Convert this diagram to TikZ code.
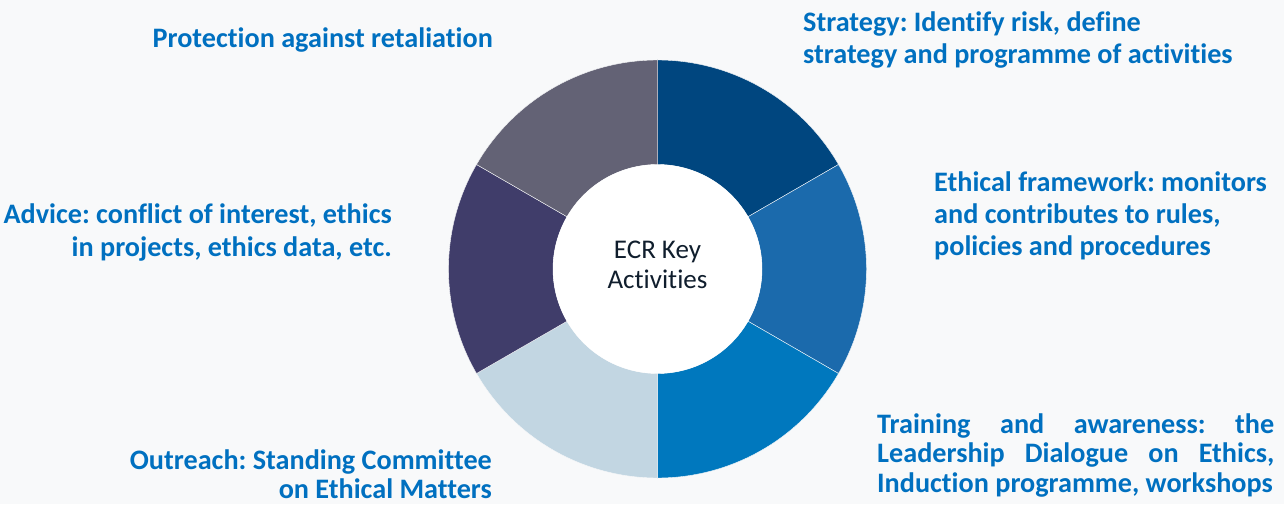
\documentclass[tikz,border=0pt]{standalone}
\usepackage{fontspec}
\setmainfont{Carlito}[Ligatures={NoCommon}]
\usepackage{xcolor}
\usetikzlibrary{calc}
\definecolor{bg}{RGB}{248,249,250}
\definecolor{lblue}{RGB}{0,112,192}
\definecolor{segA}{RGB}{0,70,127}
\definecolor{segB}{RGB}{27,106,172}
\definecolor{segC}{RGB}{0,120,190}
\definecolor{segD}{RGB}{194,214,226}
\definecolor{segE}{RGB}{64,61,106}
\definecolor{segF}{RGB}{99,98,117}
\definecolor{ctext}{RGB}{16,30,45}
\tikzset{lbl/.style={text=lblue, font=\fontsize{28.2}{32}\selectfont\bfseries, inner sep=0pt},
  wedge/.style={draw=bg, line width=0.4pt}}
\hyphenpenalty=10000
\frenchspacing

\begin{document}
\begin{tikzpicture}[x=1pt, y=1pt]
      \fill[bg] (0, 0) rectangle (1284, 504);
      \useasboundingbox (0, 0) rectangle (1284, 504);
      \coordinate (c) at (657.5, 235);
      % donut, clockwise from the top
      \fill[segA, wedge] ($(c)+(90:209pt)$) arc (90:30:209pt) -- ($(c)+(30:104.5pt)$) arc (30:90:104.5pt) -- cycle;
      \fill[segB, wedge] ($(c)+(30:209pt)$) arc (30:-30:209pt) -- ($(c)+(-30:104.5pt)$) arc (-30:30:104.5pt) -- cycle;
      \fill[segC, wedge] ($(c)+(-30:209pt)$) arc (-30:-90:209pt) -- ($(c)+(-90:104.5pt)$) arc (-90:-30:104.5pt) -- cycle;
      \fill[segD, wedge] ($(c)+(-90:209pt)$) arc (-90:-150:209pt) -- ($(c)+(-150:104.5pt)$) arc (-150:-90:104.5pt) -- cycle;
      \fill[segE, wedge] ($(c)+(210:209pt)$) arc (210:150:209pt) -- ($(c)+(150:104.5pt)$) arc (150:210:104.5pt) -- cycle;
      \fill[segF, wedge] ($(c)+(150:209pt)$) arc (150:90:209pt) -- ($(c)+(90:104.5pt)$) arc (90:150:104.5pt) -- cycle;
      \fill[white] (c) circle (104.5pt);
      \node[text=ctext, font=\fontsize{27}{30}\selectfont, align=center] (hub) at ($(c)+(0, 4)$) {ECR Key\\Activities};
      % labels (base = last line)
      \node[lbl, anchor=base east, align=right] (protect) at (493, 456) {Protection against retaliation};
      \node[lbl, anchor=base west, align=left] (strategy) at (803, 440.7) {Strategy: Identify risk, define\\strategy and programme of activities};
      \node[lbl, anchor=base west, align=left] (frame) at (934, 249) {Ethical framework: monitors\\and contributes to rules,\\policies and procedures};
      \node[lbl, anchor=base east, align=right, font=\fontsize{28.2}{33}\selectfont\bfseries] (advice) at (392, 247.3) {Advice: conflict of interest, ethics\\in projects, ethics data, etc.};
      \node[lbl, anchor=base east, align=right, font=\fontsize{28.2}{29}\selectfont\bfseries] (outreach) at (492, 5.7) {Outreach: Standing Committee\\on Ethical Matters};
      \node[lbl, anchor=base west, text width=397pt, align=justify, font=\fontsize{28.2}{29.5}\selectfont\bfseries] (training) at (877, 71) {Training and awareness: the\linebreak Leadership Dialogue on Ethics,\linebreak Induction programme, workshops};
    \end{tikzpicture}
\end{document}
